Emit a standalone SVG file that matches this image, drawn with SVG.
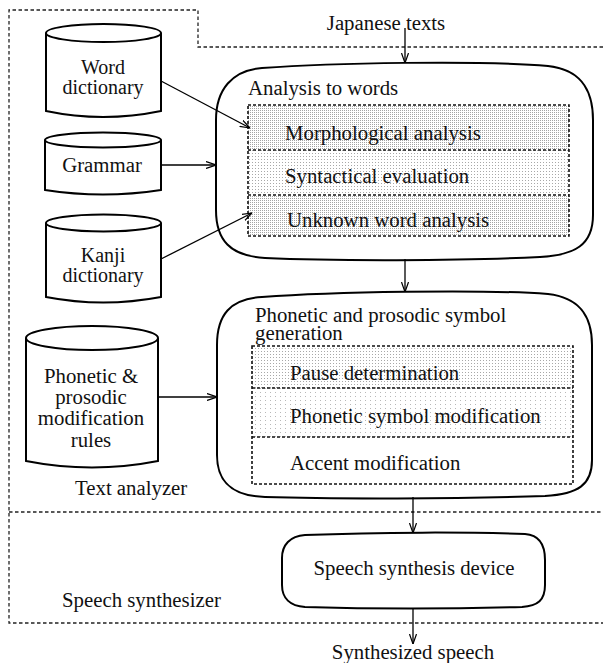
<svg xmlns="http://www.w3.org/2000/svg" width="603" height="663" viewBox="0 0 603 663">
<style>
text{font-family:"Liberation Serif","Times New Roman",serif;font-size:20.8px;fill:#111}
.mid{text-anchor:middle}
.cy{font-size:20px}
.box{fill:none;stroke:#000;stroke-width:2}
.cyl{fill:#fff;stroke:#000;stroke-width:2}
.region{fill:none;stroke:#222;stroke-width:1.3;stroke-dasharray:3.5 2.5}
.inner{stroke:#111;stroke-width:1.6;stroke-dasharray:3 2}
.conn{fill:none;stroke:#000;stroke-width:1.3}
</style>
<defs>
<pattern id="p1" width="2" height="2" patternUnits="userSpaceOnUse"><rect width="2" height="2" fill="#fff"/><rect width="1" height="1" fill="#a4a4a4"/></pattern>
<pattern id="p2" width="3" height="3" patternUnits="userSpaceOnUse"><rect width="3" height="3" fill="#fff"/><rect width="1" height="1" fill="#a8a8a8"/></pattern>
<pattern id="p3" width="5" height="4" patternUnits="userSpaceOnUse"><rect width="5" height="4" fill="#fff"/><rect width="1" height="1" fill="#b8b8b8"/></pattern>
<marker id="ah" viewBox="0 0 10 8" refX="10" refY="4" markerWidth="10" markerHeight="8" markerUnits="userSpaceOnUse" orient="auto"><path d="M0,0.5 L10,4 L0,7.5" fill="none" stroke="#000" stroke-width="1.2"/></marker>
</defs>
<rect width="603" height="663" fill="#fff"/>

<g id="regions">
<path class="region" d="M603,47 H198 V10 H9 V623 H603"/>
<path class="region" d="M9,512 H603"/>
<text id="lbl-text-analyzer" x="75" y="495">Text analyzer</text>
<text id="lbl-speech-synth" x="62" y="607">Speech synthesizer</text>
</g>

<g id="io-labels">
<text class="mid" x="386" y="30">Japanese texts</text>
<text class="mid" x="413" y="659">Synthesized speech</text>
</g>

<g id="word-dictionary">
<path class="cyl" d="M46,33 V111 Q103,123 161,111 V33"/>
<ellipse class="cyl" cx="103.5" cy="33" rx="57.5" ry="9"/>
<text class="mid cy" x="103" y="74">Word</text>
<text class="mid cy" x="103" y="94">dictionary</text>
</g>

<g id="grammar">
<path class="cyl" d="M45,140 V190 Q103,199 161,190 V140"/>
<ellipse class="cyl" cx="103" cy="140" rx="58" ry="7.5"/>
<text class="mid" x="102" y="172">Grammar</text>
</g>

<g id="kanji-dictionary">
<path class="cyl" d="M46,223 V297 Q103,308 161,297 V223"/>
<ellipse class="cyl" cx="103.5" cy="223" rx="57.5" ry="8.5"/>
<text class="mid cy" x="103" y="262">Kanji</text>
<text class="mid cy" x="103" y="282">dictionary</text>
</g>

<g id="rules">
<path class="cyl" d="M26,338 V461 Q92,474 158,461 V338"/>
<ellipse class="cyl" cx="92" cy="338" rx="66" ry="12"/>
<text class="mid" x="91" y="383">Phonetic &amp;</text>
<text class="mid" x="91" y="404">prosodic</text>
<text class="mid" x="91" y="425">modification</text>
<text class="mid" x="91" y="447">rules</text>
</g>

<g id="analysis-to-words">
<rect x="248" y="105" width="321" height="45" fill="url(#p1)"/>
<rect x="248" y="150" width="321" height="45" fill="url(#p2)"/>
<rect x="248" y="195" width="321" height="41" fill="url(#p1)"/>
<rect class="inner" x="248" y="105" width="321" height="131" fill="none"/>
<path class="inner" d="M248,150 H569 M248,195 H569"/>
<path class="box" d="M262,68 C330,63 480,60 548,66 C585,70 593,95 593,120 L593,215 C593,245 575,255 540,257 C460,261 330,261 265,258 C230,256 216,240 216,210 L216,120 C216,90 232,70 262,68 Z"/>
<text x="248" y="95">Analysis to words</text>
<text x="285" y="140">Morphological analysis</text>
<text x="285" y="183">Syntactical evaluation</text>
<text x="287" y="227">Unknown word analysis</text>
</g>

<g id="phonetic-prosodic">
<rect x="252" y="346" width="321" height="42" fill="url(#p2)"/>
<rect x="252" y="388" width="321" height="49" fill="url(#p3)"/>
<rect class="inner" x="252" y="346" width="321" height="138" fill="none"/>
<path class="inner" d="M252,388 H573 M252,437 H573"/>
<path class="box" d="M262,297 C330,292 480,289 548,294 C583,298 592,320 592,345 L592,460 C592,485 578,494 545,496 C460,499 330,499 265,497 C232,496 217,482 217,455 L217,345 C217,315 230,299 262,297 Z"/>
<text x="255" y="322">Phonetic and prosodic symbol</text>
<text x="255" y="340">generation</text>
<text x="290" y="380">Pause determination</text>
<text x="290" y="423">Phonetic symbol modification</text>
<text x="290" y="470">Accent modification</text>
</g>

<g id="speech-synthesis-device">
<path class="box" d="M305,535 C380,532 470,532 525,534 C540,535 545,545 545,560 L545,585 C545,600 538,606 522,607 C450,609 370,609 305,607 C290,606 282,598 282,585 L282,558 C282,545 290,536 305,535 Z"/>
<text class="mid" x="414" y="575">Speech synthesis device</text>
</g>

<g id="connectors">
<path class="conn" d="M405,28 V63" marker-end="url(#ah)"/>
<path class="conn" d="M161,81 L250,128" marker-end="url(#ah)"/>
<path class="conn" d="M161,165 H216" marker-end="url(#ah)"/>
<path class="conn" d="M161,259 L252,213" marker-end="url(#ah)"/>
<path class="conn" d="M158,397 H217" marker-end="url(#ah)"/>
<path class="conn" d="M405,259 V292" marker-end="url(#ah)"/>
<path class="conn" d="M413,497 V533" marker-end="url(#ah)"/>
<path class="conn" d="M413,608 V644" marker-end="url(#ah)"/>
</g>
</svg>
